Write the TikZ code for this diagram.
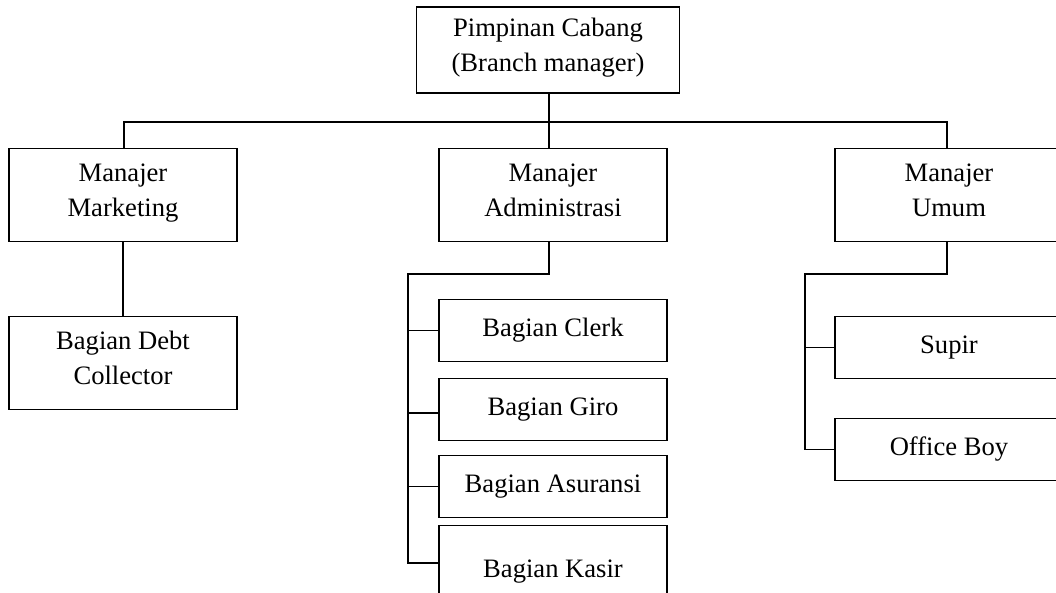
\documentclass[tikz,border=0pt]{standalone}
\usepackage{fontspec}
\setmainfont{Liberation Serif}
\usetikzlibrary{positioning}
\begin{document}
\begin{tikzpicture}[
    x=0.5pt, y=-0.5pt,
    orgbox/.style={rectangle, draw=black, line width=0.75pt, fill=white, minimum width=114pt, minimum height=46.5pt, inner sep=0pt, outer sep=0pt, align=center, font=\fontsize{13.3}{17.5}\selectfont},
    twoline/.style={orgbox, execute at begin node=\strut, execute at end node=\strut},
    subbox/.style={orgbox, minimum height=31pt},
    link/.style={line width=0.75pt, black}
]
    \useasboundingbox (0,0) rectangle (1056,593);

    % Nodes
    \node[twoline, minimum width=131.5pt, minimum height=43pt] (P) at (548,50) {Pimpinan Cabang\\(Branch manager)};
    \node[twoline] (MM) at (123,195) {Manajer\\Marketing};
    \node[twoline] (MA) at (553,195) {Manajer\\Administrasi};
    \node[twoline] (MU) at (949,195) {Manajer\\Umum};
    \node[twoline, below=37.5pt of MM] (DC) {Bagian Debt\\Collector};
    \node[subbox] (BC) at (553,330.5) {Bagian Clerk};
    \node[subbox] (BG) at (553,409.5) {Bagian Giro};
    \node[subbox] (BA) at (553,486.5) {Bagian Asuransi};
    \node[orgbox] (BK) at (553,572) {Bagian Kasir};
    \node[subbox] (SP) at (949,347.5) {Supir};
    \node[subbox, below=20pt of SP] (OB) {Office Boy};

    % Junctions
    \coordinate (busL) at (124,122);
    \coordinate (busR) at (947,122);
    \coordinate (adminJ) at (549,274);
    \coordinate (adminL) at (408,274);
    \coordinate (umumJ) at (947,274);
    \coordinate (umumL) at (805,274);
    \coordinate (giroT) at ([yshift=-1.75pt]BG.west);
    \coordinate (kasirT) at ([yshift=4.5pt]BK.west);

    % Edges
    \draw[link] (P.south -| adminJ) -- (MA.north -| adminJ);
    \draw[link] (MM.north -| busL) -- (busL) -- (busR) -- (MU.north -| busR);
    \draw[link] (MM) -- (DC);
    \draw[link] (MA.south -| adminJ) -- (adminJ) -- (adminL) |- (kasirT);
    \draw[link] (adminL |- BC.west) -- (BC.west);
    \draw[link] (adminL |- giroT) -- (giroT);
    \draw[link] (adminL |- BA.west) -- (BA.west);
    \draw[link] (MU.south -| umumJ) -- (umumJ) -- (umumL) |- (OB.west);
    \draw[link] (umumL |- SP.west) -- (SP.west);
\end{tikzpicture}
\end{document}
